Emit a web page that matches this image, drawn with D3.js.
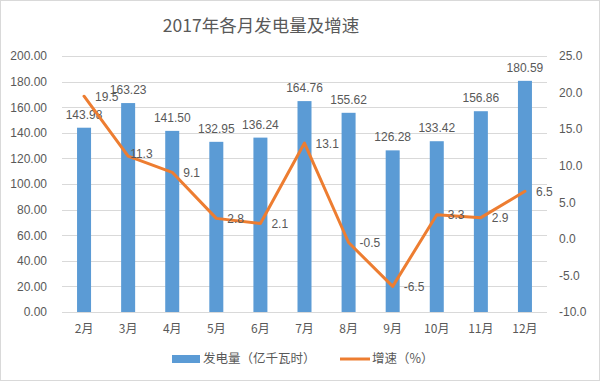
<!DOCTYPE html>
<html><head><meta charset="utf-8">
<script src="https://cdn.jsdelivr.net/npm/d3@7"></script>
<style>body{margin:0;background:#fff}svg{display:block}</style>
</head><body>
<script>
const months = ["2月","3月","4月","5月","6月","7月","8月","9月","10月","11月","12月"];
const generation = [143.98,163.23,141.50,132.95,136.24,164.76,155.62,126.28,133.42,156.86,180.59];
const growth = [19.5,11.3,9.1,2.8,2.1,13.1,-0.5,-6.5,3.3,2.9,6.5];
const leftTicks = [0,20,40,60,80,100,120,140,160,180,200];
const rightTicks = [-10,-5,0,5,10,15,20,25];
const title = "2017年各月发电量及增速";
const legendLabels = ["发电量（亿千瓦时）","增速（%）"];

const W=600,H=381;
const loc = d3.formatLocale({decimal:".",thousands:",",grouping:[3],currency:["",""],minus:"-"});
const f2 = loc.format(".2f"), f1 = loc.format(".1f");
const font = "'Liberation Sans','Noto Sans CJK SC',sans-serif";
const cjk = "'Noto Sans CJK SC','Liberation Sans',sans-serif";
const txt = "#595959";
const svg = d3.select("body").append("svg").attr("width",W).attr("height",H);
svg.append("rect").attr("x",0.5).attr("y",0.5).attr("width",W-1).attr("height",H-1)
  .attr("fill","#fff").attr("stroke","#d9d9d9");

const x = d3.scaleBand().domain(months).range([62,547]);
const yL = d3.scaleLinear().domain([0,200]).range([312,56]);
const yR = d3.scaleLinear().domain([-10,25]).range([312,56]);

// gridlines
svg.append("g").selectAll("line").data(leftTicks).join("line")
  .attr("x1",62).attr("x2",547).attr("y1",d=>Math.round(yL(d))+0.5).attr("y2",d=>Math.round(yL(d))+0.5)
  .attr("stroke","#d9d9d9").attr("stroke-width",1);

// left axis
const gL = svg.append("g").attr("transform","translate(62,0)")
  .call(d3.axisLeft(yL).tickValues(leftTicks).tickFormat(f2).tickSize(0).tickPadding(15));
gL.select(".domain").remove();
gL.selectAll("text").attr("fill",txt).attr("font-size",12).attr("font-family",font);

// right axis
const gR = svg.append("g").attr("transform","translate(547,0)")
  .call(d3.axisRight(yR).tickValues(rightTicks).tickFormat(f1).tickSize(0).tickPadding(12));
gR.select(".domain").remove();
gR.selectAll("text").attr("fill",txt).attr("font-size",12).attr("font-family",font);

// x axis
const gX = svg.append("g").attr("transform","translate(0,312)")
  .call(d3.axisBottom(x).tickSize(0).tickPadding(12));
gX.select(".domain").remove();
gX.selectAll("text").attr("fill",txt).attr("font-size",12).attr("font-family",cjk);

// bars
const bw = 14;
svg.append("g").selectAll("rect").data(generation).join("rect")
  .attr("x",(d,i)=>x(months[i])+x.bandwidth()/2-bw/2)
  .attr("y",d=>yL(d)).attr("width",bw).attr("height",d=>312-yL(d))
  .attr("fill","#5B9BD5");

// bar labels
svg.append("g").selectAll("text").data(generation).join("text")
  .attr("x",(d,i)=>x(months[i])+x.bandwidth()/2).attr("y",d=>yL(d)-9)
  .attr("text-anchor","middle").attr("fill",txt).attr("font-size",12).attr("font-family",font)
  .text(d=>f2(d));

// line
const cx = i=>x(months[i])+x.bandwidth()/2;
const line = d3.line().x((d,i)=>cx(i)).y(d=>yR(d));
svg.append("path").datum(growth).attr("d",line).attr("fill","none")
  .attr("stroke","#ED7D31").attr("stroke-width",3).attr("stroke-linejoin","round").attr("stroke-linecap","round");

// line labels
const ldx = i => i===1 ? 2 : 11;
const ldy = i => i===1 ? -3 : 0;
svg.append("g").selectAll("text").data(growth).join("text")
  .attr("x",(d,i)=>cx(i)+ldx(i)).attr("y",(d,i)=>yR(d)+ldy(i)+4.5)
  .attr("fill",txt).attr("font-size",12).attr("font-family",font)
  .text(d=>f1(d));

// title
svg.append("text").attr("x",261).attr("y",32).attr("text-anchor","middle")
  .attr("fill",txt).attr("font-size",17.5).attr("font-family",cjk).text(title);

// legend
const lg = svg.append("g");
lg.append("rect").attr("x",172).attr("y",355).attr("width",28).attr("height",8).attr("fill","#5B9BD5");
lg.append("text").attr("x",203).attr("y",363).attr("fill",txt).attr("font-size",12.5).attr("font-family",cjk).text(legendLabels[0]);
lg.append("line").attr("x1",340).attr("x2",370).attr("y1",359).attr("y2",359).attr("stroke","#ED7D31").attr("stroke-width",3);
lg.append("text").attr("x",372).attr("y",363).attr("fill",txt).attr("font-size",12.5).attr("font-family",cjk).text(legendLabels[1]);
</script>
</body></html>
